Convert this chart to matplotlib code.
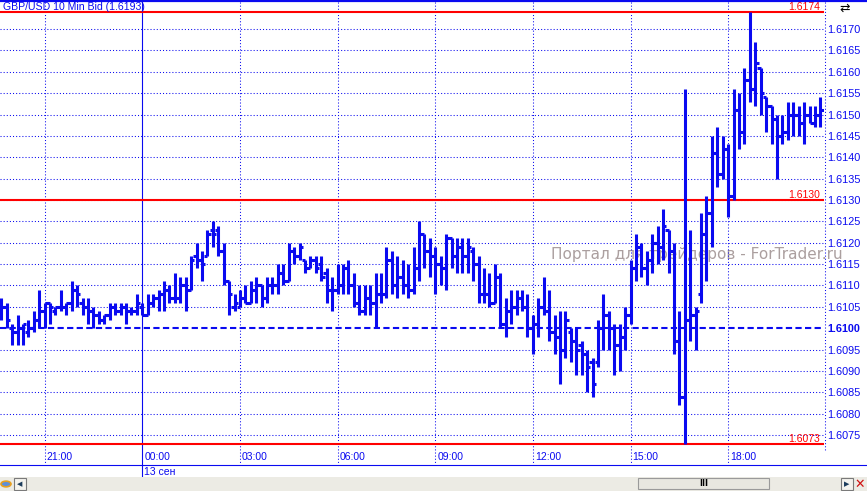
import pandas as pd
import matplotlib
matplotlib.use("Agg")
import matplotlib.pyplot as plt
import matplotlib.dates as mdates
from matplotlib.collections import LineCollection
from matplotlib.lines import Line2D
from matplotlib.patches import Rectangle
from matplotlib.transforms import blended_transform_factory, offset_copy

TITLE = "GBP/USD 10 Min Bid (1.6193)"
WATERMARK = "Портал для трейдеров - ForTrader.ru"
START = "2010-09-12 19:40"

# 10-minute bars, 19:40 (12 Sep) .. 20:50 (13 Sep)
OPENS = [
    1.6105, 1.6105, 1.6100, 1.6099, 1.6100, 1.6099, 1.6100, 1.6102, 1.6104, 1.6106,
    1.6104, 1.6105, 1.6105, 1.6106, 1.6109, 1.6106, 1.6105, 1.6104, 1.6103, 1.6102,
    1.6103, 1.6105, 1.6104, 1.6105, 1.6104, 1.6104, 1.6105, 1.6103, 1.6106, 1.6107,
    1.6108, 1.6109, 1.6107, 1.6107, 1.6110, 1.6109, 1.6117, 1.6116, 1.6117, 1.6123,
    1.6123, 1.6118, 1.6111, 1.6105, 1.6105, 1.6107, 1.6106, 1.6109, 1.6110, 1.6107,
    1.6110, 1.6110, 1.6113, 1.6111, 1.6118, 1.6117, 1.6116, 1.6114, 1.6116, 1.6115,
    1.6113, 1.6109, 1.6109, 1.6110, 1.6114, 1.6110, 1.6106, 1.6104, 1.6107, 1.6106,
    1.6108, 1.6108, 1.6116, 1.6110, 1.6112, 1.6110, 1.6109, 1.6114, 1.6122, 1.6118,
    1.6117, 1.6115, 1.6114, 1.6121, 1.6117, 1.6119, 1.6117, 1.6118, 1.6115, 1.6108,
    1.6108, 1.6106, 1.6112, 1.6101, 1.6104, 1.6105, 1.6107, 1.6105, 1.6100, 1.6101,
    1.6105, 1.6104, 1.6099, 1.6098, 1.6095, 1.6099, 1.6097, 1.6096, 1.6094, 1.6092,
    1.6092, 1.6100, 1.6103, 1.6100, 1.6096, 1.6098, 1.6103, 1.6114, 1.6119, 1.6114,
    1.6116, 1.6120, 1.6119, 1.6123, 1.6118, 1.6097, 1.6084, 1.6102, 1.6103, 1.6108,
    1.6122, 1.6127, 1.6141, 1.6136, 1.6142, 1.6131, 1.6151, 1.6146, 1.6158, 1.6156,
    1.6161, 1.6154, 1.6152, 1.6149, 1.6145, 1.6146, 1.6150, 1.6150, 1.6148, 1.6150,
    1.6148, 1.6150,
]
HIGHS = [
    1.6107, 1.6106, 1.6101, 1.6103, 1.6101, 1.6102, 1.6104, 1.6109, 1.6106, 1.6106,
    1.6105, 1.6109, 1.6106, 1.6111, 1.6110, 1.6107, 1.6107, 1.6105, 1.6104, 1.6103,
    1.6106, 1.6106, 1.6106, 1.6106, 1.6105, 1.6108, 1.6106, 1.6108, 1.6108, 1.6109,
    1.6111, 1.6110, 1.6113, 1.6112, 1.6112, 1.6117, 1.6120, 1.6118, 1.6123, 1.6125,
    1.6124, 1.6120, 1.6111, 1.6108, 1.6109, 1.6110, 1.6111, 1.6112, 1.6110, 1.6112,
    1.6112, 1.6115, 1.6115, 1.6120, 1.6119, 1.6120, 1.6116, 1.6117, 1.6117, 1.6117,
    1.6114, 1.6112, 1.6115, 1.6115, 1.6116, 1.6113, 1.6110, 1.6110, 1.6110, 1.6113,
    1.6113, 1.6119, 1.6118, 1.6117, 1.6116, 1.6115, 1.6119, 1.6125, 1.6122, 1.6121,
    1.6119, 1.6117, 1.6122, 1.6121, 1.6121, 1.6121, 1.6121, 1.6119, 1.6117, 1.6114,
    1.6113, 1.6115, 1.6113, 1.6107, 1.6109, 1.6109, 1.6109, 1.6108, 1.6103, 1.6107,
    1.6112, 1.6109, 1.6103, 1.6104, 1.6104, 1.6100, 1.6100, 1.6097, 1.6095, 1.6093,
    1.6102, 1.6108, 1.6104, 1.6101, 1.6101, 1.6105, 1.6116, 1.6122, 1.6120, 1.6118,
    1.6122, 1.6124, 1.6128, 1.6123, 1.6120, 1.6104, 1.6156, 1.6123, 1.6105, 1.6127,
    1.6131, 1.6145, 1.6147, 1.6145, 1.6143, 1.6156, 1.6155, 1.6161, 1.6174, 1.6167,
    1.6161, 1.6154, 1.6152, 1.6150, 1.6150, 1.6153, 1.6153, 1.6152, 1.6153, 1.6152,
    1.6152, 1.6154,
]
LOWS = [
    1.6102, 1.6100, 1.6096, 1.6096, 1.6096, 1.6098, 1.6099, 1.6100, 1.6100, 1.6101,
    1.6103, 1.6104, 1.6103, 1.6104, 1.6105, 1.6103, 1.6101, 1.6100, 1.6101, 1.6101,
    1.6102, 1.6103, 1.6103, 1.6101, 1.6103, 1.6103, 1.6103, 1.6103, 1.6105, 1.6104,
    1.6104, 1.6106, 1.6106, 1.6106, 1.6104, 1.6109, 1.6114, 1.6111, 1.6117, 1.6119,
    1.6117, 1.6110, 1.6103, 1.6104, 1.6105, 1.6106, 1.6106, 1.6106, 1.6105, 1.6106,
    1.6108, 1.6108, 1.6110, 1.6111, 1.6115, 1.6116, 1.6113, 1.6114, 1.6113, 1.6111,
    1.6106, 1.6104, 1.6108, 1.6108, 1.6108, 1.6105, 1.6103, 1.6103, 1.6103, 1.6100,
    1.6106, 1.6107, 1.6108, 1.6107, 1.6108, 1.6107, 1.6108, 1.6111, 1.6114, 1.6112,
    1.6108, 1.6110, 1.6109, 1.6114, 1.6113, 1.6113, 1.6113, 1.6111, 1.6106, 1.6106,
    1.6105, 1.6106, 1.6100, 1.6098, 1.6101, 1.6103, 1.6104, 1.6098, 1.6094, 1.6098,
    1.6103, 1.6097, 1.6094, 1.6087, 1.6093, 1.6092, 1.6089, 1.6089, 1.6085, 1.6084,
    1.6091, 1.6095, 1.6095, 1.6089, 1.6090, 1.6095, 1.6101, 1.6111, 1.6112, 1.6110,
    1.6113, 1.6115, 1.6116, 1.6113, 1.6094, 1.6082, 1.6073, 1.6097, 1.6095, 1.6106,
    1.6111, 1.6119, 1.6133, 1.6135, 1.6126, 1.6130, 1.6142, 1.6143, 1.6153, 1.6152,
    1.6150, 1.6146, 1.6143, 1.6135, 1.6143, 1.6144, 1.6145, 1.6145, 1.6143, 1.6148,
    1.6147, 1.6147,
]
CLOSES = [
    1.6105, 1.6102, 1.6099, 1.6100, 1.6101, 1.6100, 1.6102, 1.6104, 1.6106, 1.6105,
    1.6105, 1.6105, 1.6106, 1.6109, 1.6108, 1.6105, 1.6104, 1.6103, 1.6102, 1.6103,
    1.6105, 1.6104, 1.6105, 1.6104, 1.6104, 1.6106, 1.6103, 1.6106, 1.6107, 1.6108,
    1.6109, 1.6107, 1.6107, 1.6110, 1.6109, 1.6116, 1.6116, 1.6115, 1.6122, 1.6122,
    1.6118, 1.6111, 1.6108, 1.6106, 1.6107, 1.6106, 1.6109, 1.6110, 1.6107, 1.6110,
    1.6110, 1.6113, 1.6111, 1.6118, 1.6117, 1.6119, 1.6114, 1.6116, 1.6114, 1.6112,
    1.6109, 1.6109, 1.6110, 1.6114, 1.6110, 1.6106, 1.6104, 1.6107, 1.6106, 1.6108,
    1.6108, 1.6116, 1.6110, 1.6112, 1.6110, 1.6109, 1.6114, 1.6122, 1.6118, 1.6117,
    1.6115, 1.6114, 1.6121, 1.6117, 1.6119, 1.6117, 1.6119, 1.6115, 1.6108, 1.6108,
    1.6106, 1.6112, 1.6101, 1.6104, 1.6105, 1.6107, 1.6105, 1.6100, 1.6101, 1.6105,
    1.6104, 1.6099, 1.6098, 1.6095, 1.6102, 1.6097, 1.6095, 1.6094, 1.6091, 1.6087,
    1.6100, 1.6103, 1.6100, 1.6096, 1.6098, 1.6103, 1.6114, 1.6119, 1.6114, 1.6116,
    1.6120, 1.6119, 1.6124, 1.6118, 1.6097, 1.6084, 1.6102, 1.6103, 1.6104, 1.6122,
    1.6127, 1.6141, 1.6136, 1.6142, 1.6131, 1.6151, 1.6146, 1.6158, 1.6156, 1.6162,
    1.6155, 1.6152, 1.6149, 1.6145, 1.6146, 1.6150, 1.6150, 1.6148, 1.6150, 1.6148,
    1.6150, 1.6151,
]

PRICE_TICKS = [1.6075, 1.6080, 1.6085, 1.6090, 1.6095, 1.6100, 1.6105, 1.6110,
               1.6115, 1.6120, 1.6125, 1.6130, 1.6135, 1.6140, 1.6145, 1.6150,
               1.6155, 1.6160, 1.6165, 1.6170]
PRICE_LABELS = ["1.6075", "1.6080", "1.6085", "1.6090", "1.6095", "1.6100", "1.6105",
                "1.6110", "1.6115", "1.6120", "1.6125", "1.6130", "1.6135", "1.6140",
                "1.6145", "1.6150", "1.6155", "1.6160", "1.6165", "1.6170"]
LEVELS = [1.6174, 1.6130, 1.6073]
LEVEL_LABELS = ["1.6174", "1.6130", "1.6073"]
BASE_LEVEL = 1.6100
TIME_TICKS = ["2010-09-12 21:00", "2010-09-13 00:00", "2010-09-13 03:00", "2010-09-13 06:00",
              "2010-09-13 09:00", "2010-09-13 12:00", "2010-09-13 15:00", "2010-09-13 18:00"]
TIME_LABELS = ["21:00", "00:00", "03:00", "06:00", "09:00", "12:00", "15:00", "18:00"]
DAY_START = "2010-09-13 00:00"
DAY_LABEL = "13 сен"

BLUE = "#0a0af0"
RED = "#ff0000"
W, H = 867, 491
FONT = "Liberation Sans"


def fy(y):
    return 1 - y / H


fig = plt.figure(figsize=(W / 100, H / 100), dpi=100)
fig.patch.set_facecolor("white")
ax = fig.add_axes([0, fy(446), 824 / W, (446 - 3) / H])
ax.patch.set_alpha(0)
for s in ax.spines.values():
    s.set_visible(False)

times = mdates.date2num(pd.date_range(START, periods=len(OPENS), freq="10min").to_pydatetime())
half = 0.6 * 10 / 1440

# price grid
for p in PRICE_TICKS:
    if p == BASE_LEVEL:
        continue
    ax.axhline(p, color=BLUE, lw=0.75, ls=(0, (1, 2)), zorder=1)
ax.axhline(BASE_LEVEL, color=BLUE, lw=1.5, ls=(0, (3, 1.6)), zorder=1)

# time grid + labels
trans = blended_transform_factory(ax.transData, fig.transFigure)
ttimes = mdates.date2num(pd.to_datetime(TIME_TICKS).to_pydatetime())
day0 = mdates.date2num(pd.Timestamp(DAY_START).to_pydatetime())
for t, lab in zip(ttimes, TIME_LABELS):
    if t == day0:
        ax.plot([t, t], [fy(2), fy(477)], color=BLUE, lw=0.8, transform=trans,
                clip_on=False, zorder=1)
    else:
        ax.plot([t, t], [fy(2), fy(464)], color=BLUE, lw=0.75, ls=(0, (1, 2)),
                transform=trans, clip_on=False, zorder=1)
    ax.text(t, fy(457), lab, transform=offset_copy(trans, fig=fig, x=2, units="dots"),
            color=BLUE, fontsize=7.5, family=FONT, va="center", ha="left")
ax.text(day0, fy(472), DAY_LABEL, transform=offset_copy(trans, fig=fig, x=2, units="dots"),
        color=BLUE, fontsize=7.5, family=FONT, va="center", ha="left")

# support / resistance levels
for lv, lab in zip(LEVELS, LEVEL_LABELS):
    ax.axhline(lv, color=RED, lw=1.5, zorder=2)
    ax.text(820 / 824, lv, lab, transform=blended_transform_factory(ax.transAxes, ax.transData),
            color=RED, fontsize=7.5, family=FONT, ha="right", va="bottom", zorder=2)

# OHLC bars
segs = []
for t, o, h, l, c in zip(times, OPENS, HIGHS, LOWS, CLOSES):
    segs.append([(t, l), (t, h)])
    segs.append([(t - half, o), (t, o)])
    segs.append([(t, c), (t + half, c)])
ax.add_collection(LineCollection(segs, colors=BLUE, linewidths=2.2, capstyle="butt", zorder=3))

ax.set_xlim(mdates.date2num(pd.Timestamp("2010-09-12 19:37:42").to_pydatetime()),
            mdates.date2num(pd.Timestamp("2010-09-13 20:56:36").to_pydatetime()))
ax.set_ylim(1.607243, 1.617611)
ax.set_xticks([])
ax.yaxis.tick_right()
ax.set_yticks(PRICE_TICKS, PRICE_LABELS)
ax.tick_params(axis="y", length=0, pad=2.5, labelsize=7.8, labelcolor=BLUE)
for lbl in ax.get_yticklabels():
    lbl.set_family(FONT)
    if lbl.get_text() == "1.6100":
        lbl.set_fontweight("bold")

# title, icon and frame lines
fig.text(3 / W, fy(7), TITLE, color=BLUE, fontsize=7.6, family=FONT, va="center")
fig.text(845 / W, fy(8), "⇄", color="black", fontsize=9, family="DejaVu Sans",
         ha="center", va="center")
fig.add_artist(Line2D([0, 1], [fy(1), fy(1)], color=BLUE, lw=1.6))
fig.add_artist(Line2D([824.5 / W] * 2, [fy(2), fy(452)], color=BLUE, lw=0.75, ls=(0, (1, 2))))
fig.add_artist(Line2D([0, 1], [fy(465), fy(465)], color=BLUE, lw=0.8))

# watermark (drawn under the bars, reaches into the price scale as in the source)
fig.text(551 / W, fy(255), WATERMARK, color="#ab9f9f", fontsize=11, family="DejaVu Sans",
         va="center", zorder=-1)

# scrollbar strip
fig.add_artist(Rectangle((0, 0), 1, fy(477), transform=fig.transFigure,
                         facecolor="#ecebe4", edgecolor="none"))
fig.add_artist(Rectangle((638 / W, fy(489)), 131 / W, 11 / H, transform=fig.transFigure,
                         facecolor="#e8e7e0", edgecolor="#9a9a9a", lw=0.8))
fig.text(703.5 / W, fy(483.5), "III", fontsize=6, weight="bold", ha="center", va="center")
fig.add_artist(Rectangle((14 / W, fy(490)), 12 / W, 12 / H, transform=fig.transFigure,
                         facecolor="#f4f3ee", edgecolor="#7a7a7a", lw=0.8))
fig.text(20 / W, fy(484), "◀", fontsize=5, ha="center", va="center", color="#1c3c5c")
fig.add_artist(Rectangle((841 / W, fy(490)), 12 / W, 12 / H, transform=fig.transFigure,
                         facecolor="#f4f3ee", edgecolor="#7a7a7a", lw=0.8))
fig.text(847 / W, fy(484), "▶", fontsize=5, ha="center", va="center", color="#1c3c5c")
fig.text(860 / W, fy(484), "✕", fontsize=9, ha="center", va="center", color="#d01010")
fig.add_artist(plt.Circle((6 / W, fy(484)), 5 / W, transform=fig.transFigure,
                          facecolor="#5f8fd8", edgecolor="#e8a020", lw=1.2))

fig.savefig("out.png", dpi=100)
